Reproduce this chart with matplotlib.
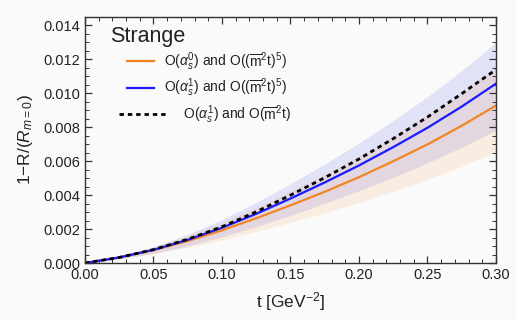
import matplotlib
matplotlib.use("Agg")
import matplotlib.pyplot as plt
import numpy as np
from matplotlib.ticker import MultipleLocator, FormatStrFormatter
from matplotlib.legend_handler import HandlerLine2D

plt.rcParams['font.family'] = ['Liberation Sans', 'DejaVu Sans']
plt.rcParams['mathtext.fontset'] = 'custom'
plt.rcParams['mathtext.rm'] = 'Liberation Sans'
plt.rcParams['mathtext.it'] = 'Liberation Sans:italic'
plt.rcParams['mathtext.bf'] = 'Liberation Sans:bold'

# data
t = [0.0, 0.025, 0.05, 0.075, 0.10, 0.125, 0.15, 0.175, 0.20, 0.225, 0.25, 0.275, 0.30]
blue = [0, 0.00033, 0.00078, 0.00137, 0.00208, 0.00290, 0.00380, 0.00475, 0.00575, 0.00683, 0.00797, 0.00922, 0.01057]
blue_lo = [0, 0.00025, 0.00058, 0.00101, 0.00154, 0.00215, 0.00281, 0.00352, 0.00426, 0.00505, 0.00590, 0.00682, 0.00782]
blue_hi = [0, 0.00041, 0.00096, 0.00169, 0.00256, 0.00357, 0.00467, 0.00584, 0.00707, 0.00840, 0.00980, 0.01134, 0.01300]
orange = [0, 0.00033, 0.00076, 0.00130, 0.00193, 0.00264, 0.00340, 0.00420, 0.00506, 0.00600, 0.00699, 0.00809, 0.00928]
orange_lo = [0, 0.00023, 0.00054, 0.00092, 0.00136, 0.00186, 0.00240, 0.00296, 0.00357, 0.00423, 0.00493, 0.00570, 0.00655]
orange_hi = [0, 0.00041, 0.00095, 0.00162, 0.00240, 0.00329, 0.00423, 0.00523, 0.00630, 0.00747, 0.00870, 0.01007, 0.01155]
black = [0, 0.00033, 0.00079, 0.00140, 0.00214, 0.00302, 0.00400, 0.00503, 0.00613, 0.00733, 0.00860, 0.00998, 0.01140]

labels = [r'O($\alpha_s^0$) and O(($\overline{\mathrm{m}}^2$t)$^5$)',
          r'O($\alpha_s^1$) and O(($\overline{\mathrm{m}}^2$t)$^5$)',
          r'     O($\alpha_s^1$) and O($\overline{\mathrm{m}}^2$t)']


class PartialLine(HandlerLine2D):
    def __init__(self, f0, f1, **kw):
        super().__init__(**kw)
        self.f0, self.f1 = f0, f1

    def create_artists(self, legend, orig_handle, xdescent, ydescent, width, height, fontsize, trans):
        arts = super().create_artists(legend, orig_handle, xdescent, ydescent, width, height, fontsize, trans)
        for a in arts:
            xd = a.get_xdata()
            if len(xd) >= 2:
                x0 = -xdescent + self.f0 * width
                x1 = -xdescent + self.f1 * width
                a.set_xdata(np.linspace(x0, x1, len(xd)))
        return arts


bg = '#fafafa'
fig = plt.figure(figsize=(5.16, 3.2), dpi=100, facecolor=bg)
ax = fig.add_axes([0.1647, 0.178, 0.7965, 0.769])
ax.set_facecolor(bg)

c_orange = '#f28522'
c_blue = '#1a1aff'

ax.fill_between(t, orange_lo, orange_hi, color='#f5a050', alpha=0.15, lw=0)
ax.fill_between(t, blue_lo, blue_hi, color='#6a6ae8', alpha=0.16, lw=0)

l1, = ax.plot(t, orange, color=c_orange, lw=1.6, label=labels[0])
l2, = ax.plot(t, blue, color=c_blue, lw=1.6, label=labels[1])
l3, = ax.plot(t, black, color='black', lw=2.0, ls=(0, (1.6, 1.4)), label=labels[2])

ax.set_xlim(0, 0.30)
ax.set_ylim(0, 0.0145)
ax.xaxis.set_major_locator(MultipleLocator(0.05))
ax.xaxis.set_minor_locator(MultipleLocator(0.01))
ax.yaxis.set_major_locator(MultipleLocator(0.002))
ax.yaxis.set_minor_locator(MultipleLocator(0.0005))
ax.xaxis.set_major_formatter(FormatStrFormatter('%.2f'))
ax.yaxis.set_major_formatter(FormatStrFormatter('%.3f'))
ax.tick_params(which='both', direction='in', top=True, right=True, color='#333333', labelsize=10.5, labelcolor='#222222')
ax.tick_params(which='major', length=5, width=0.9)
ax.tick_params(which='minor', length=2.8, width=0.7)
for s in ax.spines.values():
    s.set_color('#333333')
    s.set_linewidth(1.0)

ax.set_xlabel(r't [GeV$^{-2}$]', fontsize=12.5, color='#222222', labelpad=6)
ax.set_ylabel(r'1$-$R/($R_{m=0}$)', fontsize=12.5, color='#222222', labelpad=6)

leg = ax.legend([l1, l2, l3], labels, title='Strange', loc='upper left', bbox_to_anchor=(0.03, 1.014), frameon=False,
                fontsize=10, title_fontsize=15.5, handlelength=3.3, handletextpad=0.6,
                labelspacing=0.26, alignment='left',
                handler_map={l1: PartialLine(0.38, 0.97), l2: PartialLine(0.38, 0.97), l3: PartialLine(0.21, 1.28)})
leg.get_title().set_color('#222222')
for txt in leg.get_texts():
    txt.set_color('#222222')

fig.savefig('out.png', dpi=100, facecolor=bg)
